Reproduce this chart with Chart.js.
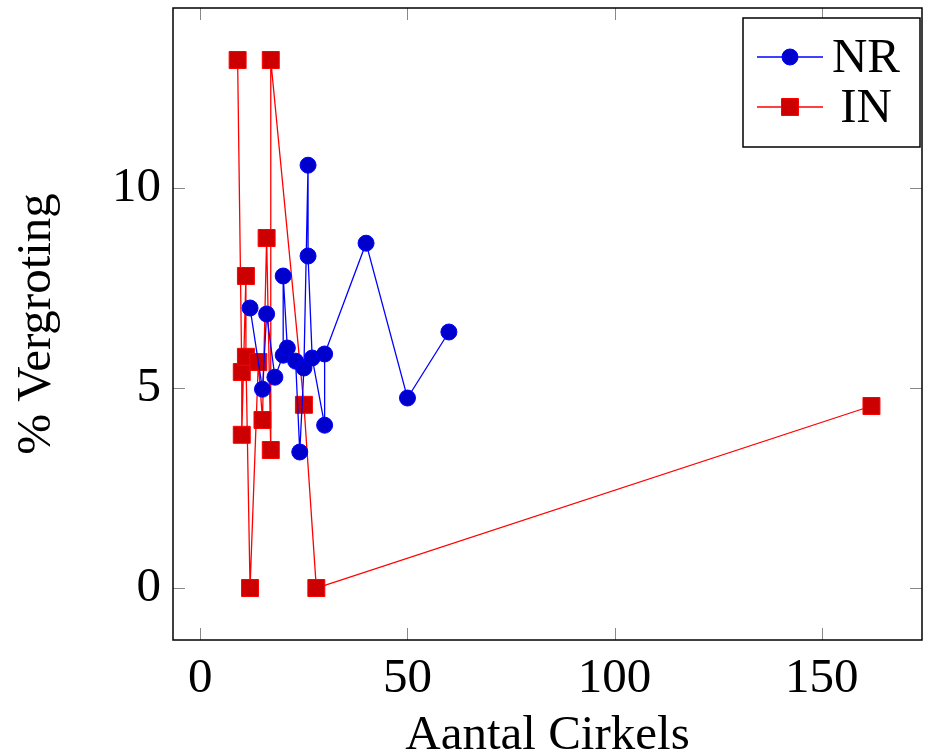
<!DOCTYPE html>
<html>
<head>
<meta charset="utf-8">
<script src="https://cdn.jsdelivr.net/npm/chart.js@4.4.0/dist/chart.umd.min.js"></script>
<style>
  html, body { margin: 0; padding: 0; background: #fff; }
  canvas { display: block; }
</style>
</head>
<body>
<canvas id="chart" width="925" height="754"></canvas>
<script>
// NR series (sorted by number of circles)
const nrX = [12, 15, 16, 18, 20, 20, 21, 23, 24, 25, 26, 26, 27, 30, 30, 40, 50, 60];
const nrY = [7.0, 4.97, 6.85, 5.27, 5.82, 7.8, 6.0, 5.67, 3.4, 5.5, 10.57, 8.3, 5.75, 4.07, 5.85, 8.62, 4.75, 6.4];

// IN series
const inX = [9, 10, 10, 11, 11, 12, 14, 15, 16, 17, 17, 25, 28, 162];
const inY = [13.2, 5.4, 3.83, 7.8, 5.78, 0, 5.65, 4.2, 8.75, 3.45, 13.2, 4.58, 0, 4.55];

const xTicks = [0, 50, 100, 150];
const yTicks = [0, 5, 10];

const seriesNames = ['NR', 'IN'];

const fontFamily = '"Liberation Serif", "DejaVu Serif", serif';
const bigFont = { family: fontFamily, size: 49 };

function toPoints(xs, ys) {
  return xs.map((x, i) => ({ x: x, y: ys[i] }));
}

// keep chart.js from reserving room for half labels at the ends
function noPadding(s) {
  s.paddingTop = 0;
  s.paddingBottom = 0;
  s.paddingLeft = 0;
  s.paddingRight = 0;
}

// frame, inside ticks and the legend box like pgfplots draws them
const framePlugin = {
  id: 'frame',
  afterDraw(chart) {
    const ctx = chart.ctx;
    const area = chart.chartArea;
    const xs = chart.scales.x;
    const ys = chart.scales.y;
    const tickLen = 12;

    ctx.save();
    ctx.strokeStyle = '#888';
    ctx.lineWidth = 1;
    xTicks.forEach(v => {
      const px = Math.round(xs.getPixelForValue(v)) + 0.5;
      ctx.beginPath();
      ctx.moveTo(px, area.bottom);
      ctx.lineTo(px, area.bottom - tickLen);
      ctx.moveTo(px, area.top);
      ctx.lineTo(px, area.top + tickLen);
      ctx.stroke();
    });
    yTicks.forEach(v => {
      const py = Math.round(ys.getPixelForValue(v)) + 0.5;
      ctx.beginPath();
      ctx.moveTo(area.left, py);
      ctx.lineTo(area.left + tickLen, py);
      ctx.moveTo(area.right, py);
      ctx.lineTo(area.right - tickLen, py);
      ctx.stroke();
    });

    ctx.strokeStyle = '#000';
    ctx.lineWidth = 1.5;
    ctx.strokeRect(area.left, area.top, area.right - area.left, area.bottom - area.top);

    // legend
    const box = { x: 743, y: 18, w: 177, h: 129 };
    ctx.fillStyle = '#fff';
    ctx.fillRect(box.x, box.y, box.w, box.h);
    ctx.strokeRect(box.x, box.y, box.w, box.h);

    const rows = [57, 107];
    chart.data.datasets.forEach((ds, i) => {
      const y = rows[i];
      ctx.strokeStyle = ds.borderColor;
      ctx.lineWidth = ds.borderWidth;
      ctx.beginPath();
      ctx.moveTo(757, y);
      ctx.lineTo(823, y);
      ctx.stroke();

      ctx.fillStyle = ds.pointBackgroundColor;
      ctx.strokeStyle = ds.pointBorderColor;
      ctx.lineWidth = ds.pointBorderWidth;
      ctx.beginPath();
      if (ds.pointStyle === 'rect') {
        const s = Math.SQRT1_2 * ds.pointRadius;
        ctx.rect(790 - s, y - s, 2 * s, 2 * s);
      } else {
        ctx.arc(790, y, ds.pointRadius, 0, Math.PI * 2);
      }
      ctx.fill();
      ctx.stroke();

      ctx.fillStyle = '#000';
      ctx.font = '49px ' + fontFamily;
      ctx.textBaseline = 'middle';
      ctx.textAlign = 'center';
      ctx.fillText(seriesNames[i], 866, y + 2);
    });
    ctx.restore();
  }
};

const ctx = document.getElementById('chart').getContext('2d');
const chart = new Chart(ctx, {
  type: 'scatter',
  data: {
    datasets: [
      {
        label: seriesNames[0],
        data: toPoints(nrX, nrY),
        showLine: true,
        borderColor: '#0000ff',
        borderWidth: 1.3,
        pointStyle: 'circle',
        pointRadius: 8,
        pointBackgroundColor: '#0000cc',
        pointBorderColor: '#0000ff',
        pointBorderWidth: 1,
        tension: 0
      },
      {
        label: seriesNames[1],
        data: toPoints(inX, inY),
        showLine: true,
        borderColor: '#ff0000',
        borderWidth: 1.3,
        pointStyle: 'rect',
        pointRadius: 12,
        pointBackgroundColor: '#cc0000',
        pointBorderColor: '#ff0000',
        pointBorderWidth: 1,
        tension: 0
      }
    ]
  },
  options: {
    responsive: false,
    animation: false,
    layout: { autoPadding: false, padding: { top: 8, right: 3, left: 0, bottom: 0 } },
    plugins: {
      legend: { display: false },
      tooltip: { enabled: false }
    },
    scales: {
      x: {
        type: 'linear',
        min: -6.6,
        max: 174.2,
        afterBuildTicks: s => { s.ticks = xTicks.map(v => ({ value: v })); },
        afterFit: s => { s.height = 114; noPadding(s); },
        grid: { display: false, drawTicks: false },
        border: { display: false },
        ticks: { font: bigFont, color: '#000', padding: 10, maxRotation: 0 },
        title: { display: true, text: 'Aantal Cirkels', font: bigFont, color: '#000', padding: { top: 0, bottom: -12 } }
      },
      y: {
        type: 'linear',
        min: -1.3,
        max: 14.5,
        afterBuildTicks: s => { s.ticks = yTicks.map(v => ({ value: v })); },
        afterFit: s => { s.width = 173; noPadding(s); },
        grid: { display: false, drawTicks: false },
        border: { display: false },
        ticks: { font: bigFont, color: '#000', padding: 12 },
        title: { display: true, text: '% Vergroting', font: bigFont, color: '#000', padding: { top: 8, bottom: 0 } }
      }
    }
  },
  plugins: [framePlugin]
});
</script>
</body>
</html>
